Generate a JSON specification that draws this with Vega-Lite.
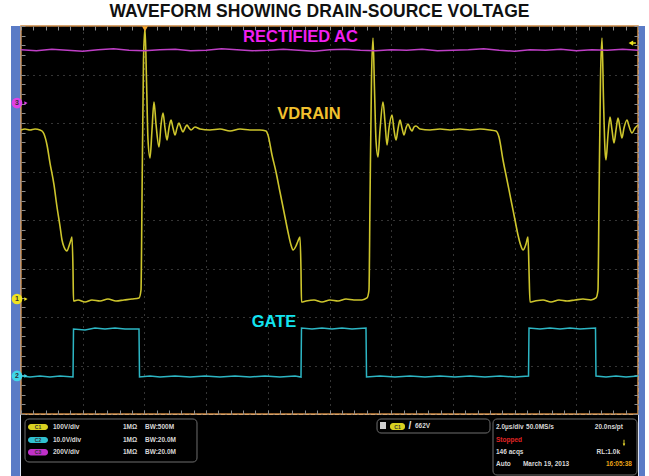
{
"$schema":"https://vega.github.io/schema/vega-lite/v6.json",
"width":617,"height":388,"autosize":"none",
"padding":{"left":21,"top":26,"right":11,"bottom":62},
"background":"#ffffff",
"title":{"text":"WAVEFORM SHOWING DRAIN-SOURCE VOLTAGE","font":"Liberation Sans","fontSize":17.5,"fontWeight":"bold","color":"#111111","anchor":"middle","offset":4,"dx":-10},
"config":{"view":{"fill":"#000000","stroke":"#c9853f","strokeWidth":1.5},"text":{"font":"Liberation Sans","fontWeight":"bold"}},
"resolve":{"axis":{"x":"independent","y":"independent"}},
"data":{"values":[{}]},
"datasets":{
"rectac":[{"t":0,"v":7.51},{"t":0.5,"v":7.49},{"t":1,"v":7.52},{"t":1.5,"v":7.5},{"t":2,"v":7.48},{"t":2.5,"v":7.51},{"t":3,"v":7.53},{"t":3.5,"v":7.5},{"t":4,"v":7.49},{"t":4.5,"v":7.51},{"t":5,"v":7.52},{"t":5.5,"v":7.49},{"t":6,"v":7.5},{"t":6.5,"v":7.53},{"t":7,"v":7.51},{"t":7.5,"v":7.49},{"t":8,"v":7.5},{"t":8.5,"v":7.52},{"t":9,"v":7.5},{"t":9.5,"v":7.48},{"t":10,"v":7.51},{"t":10.5,"v":7.52},{"t":11,"v":7.5},{"t":11.5,"v":7.49},{"t":12,"v":7.51},{"t":12.5,"v":7.5},{"t":13,"v":7.52},{"t":13.5,"v":7.49},{"t":14,"v":7.5},{"t":14.5,"v":7.51},{"t":15,"v":7.53},{"t":15.5,"v":7.5},{"t":16,"v":7.48},{"t":16.5,"v":7.51},{"t":17,"v":7.5},{"t":17.5,"v":7.52},{"t":18,"v":7.49},{"t":18.5,"v":7.51},{"t":19,"v":7.5},{"t":19.5,"v":7.52},{"t":20,"v":7.5}],
"gate":[{"t":0,"v":0.784},{"t":0.292,"v":0.763},{"t":0.616,"v":0.784},{"t":0.94,"v":0.763},{"t":1.264,"v":0.784},{"t":1.686,"v":0.763},{"t":1.702,"v":1.753},{"t":2.075,"v":1.732},{"t":2.399,"v":1.773},{"t":2.723,"v":1.753},{"t":3.047,"v":1.773},{"t":3.371,"v":1.753},{"t":3.825,"v":1.753},{"t":3.841,"v":0.763},{"t":4.182,"v":0.784},{"t":4.506,"v":0.763},{"t":4.992,"v":0.784},{"t":5.478,"v":0.763},{"t":5.964,"v":0.784},{"t":6.45,"v":0.763},{"t":6.937,"v":0.784},{"t":7.423,"v":0.763},{"t":7.909,"v":0.784},{"t":8.395,"v":0.763},{"t":8.882,"v":0.784},{"t":9.076,"v":0.763},{"t":9.092,"v":1.773},{"t":9.433,"v":1.753},{"t":9.757,"v":1.773},{"t":10.081,"v":1.753},{"t":10.405,"v":1.773},{"t":10.729,"v":1.753},{"t":11.183,"v":1.773},{"t":11.2,"v":0.763},{"t":11.637,"v":0.784},{"t":12.123,"v":0.763},{"t":12.609,"v":0.784},{"t":13.096,"v":0.763},{"t":13.582,"v":0.784},{"t":14.068,"v":0.763},{"t":14.554,"v":0.784},{"t":15.041,"v":0.763},{"t":15.527,"v":0.784},{"t":16.013,"v":0.763},{"t":16.451,"v":0.784},{"t":16.467,"v":1.773},{"t":16.823,"v":1.753},{"t":17.147,"v":1.773},{"t":17.472,"v":1.753},{"t":17.796,"v":1.773},{"t":18.12,"v":1.753},{"t":18.622,"v":1.773},{"t":18.638,"v":0.784},{"t":18.963,"v":0.763},{"t":19.287,"v":0.784},{"t":19.611,"v":0.763},{"t":20,"v":0.784}],
"vdrain":[{"t":0,"v":5.856},{"t":0.13,"v":5.876},{"t":0.292,"v":5.856},{"t":0.454,"v":5.876},{"t":0.616,"v":5.856},{"t":0.681,"v":5.835},{"t":0.746,"v":5.773},{"t":0.843,"v":5.546},{"t":0.94,"v":5.175},{"t":1.07,"v":4.722},{"t":1.167,"v":4.268},{"t":1.264,"v":3.876},{"t":1.329,"v":3.588},{"t":1.394,"v":3.443},{"t":1.491,"v":3.361},{"t":1.556,"v":3.464},{"t":1.621,"v":3.588},{"t":1.653,"v":3.649},{"t":1.686,"v":2.969},{"t":1.702,"v":2.33},{"t":1.848,"v":2.351},{"t":2.075,"v":2.309},{"t":2.301,"v":2.351},{"t":2.561,"v":2.33},{"t":2.82,"v":2.371},{"t":3.079,"v":2.33},{"t":3.339,"v":2.351},{"t":3.598,"v":2.371},{"t":3.825,"v":2.392},{"t":3.89,"v":2.557},{"t":3.922,"v":4.412},{"t":3.971,"v":7.299},{"t":4.019,"v":7.959},{"t":4.068,"v":6.887},{"t":4.117,"v":5.649},{"t":4.182,"v":5.278},{"t":4.246,"v":5.856},{"t":4.311,"v":6.433},{"t":4.376,"v":5.979},{"t":4.473,"v":5.505},{"t":4.538,"v":5.959},{"t":4.603,"v":6.206},{"t":4.668,"v":5.897},{"t":4.733,"v":5.649},{"t":4.797,"v":5.897},{"t":4.862,"v":6.062},{"t":4.927,"v":5.897},{"t":4.992,"v":5.753},{"t":5.057,"v":5.897},{"t":5.122,"v":6.0},{"t":5.186,"v":5.897},{"t":5.251,"v":5.814},{"t":5.316,"v":5.897},{"t":5.381,"v":5.959},{"t":5.446,"v":5.897},{"t":5.511,"v":5.856},{"t":5.64,"v":5.918},{"t":5.802,"v":5.876},{"t":6.126,"v":5.856},{"t":6.45,"v":5.876},{"t":6.775,"v":5.835},{"t":7.099,"v":5.876},{"t":7.423,"v":5.856},{"t":7.747,"v":5.856},{"t":7.942,"v":5.835},{"t":8.006,"v":5.753},{"t":8.136,"v":5.34},{"t":8.266,"v":4.99},{"t":8.395,"v":4.577},{"t":8.525,"v":4.165},{"t":8.655,"v":3.753},{"t":8.752,"v":3.485},{"t":8.817,"v":3.381},{"t":8.914,"v":3.464},{"t":8.979,"v":3.567},{"t":9.044,"v":3.649},{"t":9.076,"v":2.969},{"t":9.092,"v":2.309},{"t":9.238,"v":2.33},{"t":9.498,"v":2.351},{"t":9.757,"v":2.309},{"t":10.016,"v":2.351},{"t":10.276,"v":2.33},{"t":10.535,"v":2.371},{"t":10.794,"v":2.351},{"t":11.053,"v":2.351},{"t":11.216,"v":2.392},{"t":11.28,"v":2.557},{"t":11.313,"v":4.412},{"t":11.361,"v":6.887},{"t":11.41,"v":7.753},{"t":11.459,"v":6.68},{"t":11.507,"v":5.649},{"t":11.572,"v":5.299},{"t":11.637,"v":5.856},{"t":11.734,"v":6.433},{"t":11.799,"v":6.021},{"t":11.864,"v":5.546},{"t":11.929,"v":5.897},{"t":12.026,"v":6.165},{"t":12.091,"v":5.856},{"t":12.156,"v":5.649},{"t":12.22,"v":5.876},{"t":12.285,"v":6.062},{"t":12.35,"v":5.897},{"t":12.415,"v":5.753},{"t":12.48,"v":5.897},{"t":12.545,"v":5.979},{"t":12.61,"v":5.897},{"t":12.674,"v":5.835},{"t":12.739,"v":5.918},{"t":12.804,"v":5.938},{"t":12.934,"v":5.876},{"t":13.258,"v":5.856},{"t":13.582,"v":5.876},{"t":13.906,"v":5.856},{"t":14.23,"v":5.876},{"t":14.554,"v":5.856},{"t":14.878,"v":5.876},{"t":15.203,"v":5.856},{"t":15.397,"v":5.835},{"t":15.494,"v":5.711},{"t":15.624,"v":5.237},{"t":15.754,"v":4.825},{"t":15.883,"v":4.412},{"t":16.013,"v":4.0},{"t":16.11,"v":3.691},{"t":16.207,"v":3.464},{"t":16.272,"v":3.381},{"t":16.369,"v":3.505},{"t":16.434,"v":3.649},{"t":16.467,"v":2.969},{"t":16.499,"v":2.309},{"t":16.661,"v":2.33},{"t":16.921,"v":2.351},{"t":17.18,"v":2.309},{"t":17.439,"v":2.351},{"t":17.699,"v":2.33},{"t":17.958,"v":2.351},{"t":18.217,"v":2.371},{"t":18.476,"v":2.351},{"t":18.638,"v":2.392},{"t":18.703,"v":2.557},{"t":18.736,"v":4.412},{"t":18.784,"v":6.887},{"t":18.833,"v":7.753},{"t":18.882,"v":6.474},{"t":18.93,"v":5.443},{"t":18.963,"v":5.237},{"t":19.027,"v":5.753},{"t":19.092,"v":6.124},{"t":19.157,"v":5.856},{"t":19.222,"v":5.588},{"t":19.287,"v":5.856},{"t":19.352,"v":6.103},{"t":19.416,"v":5.897},{"t":19.481,"v":5.691},{"t":19.546,"v":5.897},{"t":19.643,"v":6.062},{"t":19.708,"v":5.938},{"t":19.805,"v":5.794},{"t":19.903,"v":5.897},{"t":20,"v":5.959}],
"refs":[{"ch":"3","level":6.412},{"ch":"1","level":2.371},{"ch":"2","level":0.784}]
},
"layer":[
{"mark":{"type":"rect","color":"#000000"},"encoding":{"x":{"datum":0,"type":"quantitative","axis":null},"x2":{"datum":20},"y":{"datum":-0.02,"type":"quantitative","axis":null},"y2":{"datum":-1.3}}},
{"mark":{"type":"rect","color":"#5a7bc6"},"encoding":{"x":{"datum":-0.324,"type":"quantitative","axis":null},"x2":{"datum":-0.025},"y":{"datum":8,"type":"quantitative","axis":null},"y2":{"datum":-1.3}}},
{"mark":{"type":"rect","color":"#5a7bc6"},"encoding":{"x":{"datum":20.025,"type":"quantitative","axis":null},"x2":{"datum":20.227},"y":{"datum":8,"type":"quantitative","axis":null},"y2":{"datum":-1.3}}},
{"data":{"name":"vdrain"},"mark":{"type":"line","color":"#cdc52c","strokeWidth":1.6,"interpolate":"monotone"},"encoding":{
 "x":{"field":"t","type":"quantitative","scale":{"domain":[0,20]},"axis":{"orient":"bottom","values":[0,2,4,6,8,10,12,14,16,18,20],"grid":true,"gridColor":"#6a6a6a","gridDash":[1,5],"gridWidth":1,"ticks":false,"labels":false,"domain":false,"title":null}},
 "y":{"field":"v","type":"quantitative","scale":{"domain":[0,8]},"axis":{"orient":"left","values":[0,1,2,3,4,5,6,7,8],"grid":true,"gridColor":"#6a6a6a","gridDash":[1,5],"gridWidth":1,"ticks":false,"labels":false,"domain":false,"title":null}}}},
{"data":{"name":"gate"},"mark":{"type":"line","color":"#2db6c4","strokeWidth":1.5},"encoding":{
 "x":{"field":"t","type":"quantitative","scale":{"domain":[0,20]},"axis":{"orient":"top","values":[0,0.4,0.8,1.2,1.6,2,2.4,2.8,3.2,3.6,4,4.4,4.8,5.2,5.6,6,6.4,6.8,7.2,7.6,8,8.4,8.8,9.2,9.6,10,10.4,10.8,11.2,11.6,12,12.4,12.8,13.2,13.6,14,14.4,14.8,15.2,15.6,16,16.4,16.8,17.2,17.6,18,18.4,18.8,19.2,19.6,20],"tickSize":-4,"tickColor":"#8c8c8c","labels":false,"domain":false,"grid":false,"title":null}},
 "y":{"field":"v","type":"quantitative","scale":{"domain":[0,8]},"axis":{"orient":"left","values":[0,0.2,0.4,0.6,0.8,1,1.2,1.4,1.6,1.8,2,2.2,2.4,2.6,2.8,3,3.2,3.4,3.6,3.8,4,4.2,4.4,4.6,4.8,5,5.2,5.4,5.6,5.8,6,6.2,6.4,6.6,6.8,7,7.2,7.4,7.6,7.8,8],"tickSize":-4,"tickColor":"#8c8c8c","labels":false,"domain":false,"grid":false,"title":null}}}},
{"data":{"name":"rectac"},"mark":{"type":"line","color":"#bf3fc6","strokeWidth":1.4},"encoding":{
 "x":{"field":"t","type":"quantitative","scale":{"domain":[0,20]},"axis":{"orient":"bottom","values":[0,0.4,0.8,1.2,1.6,2,2.4,2.8,3.2,3.6,4,4.4,4.8,5.2,5.6,6,6.4,6.8,7.2,7.6,8,8.4,8.8,9.2,9.6,10,10.4,10.8,11.2,11.6,12,12.4,12.8,13.2,13.6,14,14.4,14.8,15.2,15.6,16,16.4,16.8,17.2,17.6,18,18.4,18.8,19.2,19.6,20],"tickSize":-4,"tickColor":"#8c8c8c","labels":false,"domain":false,"grid":false,"title":null}},
 "y":{"field":"v","type":"quantitative","scale":{"domain":[0,8]},"axis":{"orient":"right","values":[0,0.2,0.4,0.6,0.8,1,1.2,1.4,1.6,1.8,2,2.2,2.4,2.6,2.8,3,3.2,3.4,3.6,3.8,4,4.2,4.4,4.6,4.8,5,5.2,5.4,5.6,5.8,6,6.2,6.4,6.6,6.8,7,7.2,7.4,7.6,7.8,8],"tickSize":-4,"tickColor":"#8c8c8c","labels":false,"domain":false,"grid":false,"title":null}}}},
{"mark":{"type":"text","color":"#f01ff0","fontSize":16.5},"encoding":{"x":{"datum":9.06,"type":"quantitative","axis":null},"y":{"datum":7.777,"type":"quantitative","axis":null},"text":{"value":"RECTIFIED AC"}}},
{"mark":{"type":"text","color":"#f2c02e","fontSize":16.5},"encoding":{"x":{"datum":9.335,"type":"quantitative","axis":null},"y":{"datum":6.186,"type":"quantitative","axis":null},"text":{"value":"VDRAIN"}}},
{"mark":{"type":"text","color":"#12e4f0","fontSize":16.5},"encoding":{"x":{"datum":8.201,"type":"quantitative","axis":null},"y":{"datum":1.887,"type":"quantitative","axis":null},"text":{"value":"GATE"}}},
{"data":{"name":"refs"},"mark":{"type":"point","filled":true,"size":115,"opacity":1},"encoding":{"x":{"datum":-0.13,"type":"quantitative","axis":null},"y":{"field":"level","type":"quantitative","axis":null},"color":{"field":"ch","type":"nominal","scale":{"domain":["1","2","3"],"range":["#efe31f","#3fd6e8","#e040e6"]},"legend":null}}},
{"data":{"name":"refs"},"mark":{"type":"point","filled":true,"size":14,"opacity":1,"shape":"triangle-right"},"encoding":{"x":{"datum":0.16,"type":"quantitative","axis":null},"y":{"field":"level","type":"quantitative","axis":null},"color":{"field":"ch","type":"nominal","legend":null}}},
{"data":{"name":"refs"},"mark":{"type":"text","fontSize":7,"color":"#333333"},"encoding":{"x":{"datum":-0.13,"type":"quantitative","axis":null},"y":{"field":"level","type":"quantitative","axis":null},"text":{"field":"ch"}}},
{"mark":{"type":"point","shape":"triangle-down","filled":true,"size":35,"color":"#f2a531","opacity":1},"encoding":{"x":{"datum":4.019,"type":"quantitative","axis":null},"y":{"datum":7.94,"type":"quantitative","axis":null}}},
{"mark":{"type":"point","shape":"triangle-left","filled":true,"size":28,"color":"#ebe21f","opacity":1},"encoding":{"x":{"datum":19.77,"type":"quantitative","axis":null},"y":{"datum":7.649,"type":"quantitative","axis":null}}},
{"mark":{"type":"rule","color":"#ebe21f","strokeWidth":1.5},"encoding":{"x":{"datum":19.79,"type":"quantitative","axis":null},"x2":{"datum":19.93},"y":{"datum":7.649,"type":"quantitative","axis":null}}},
{"mark":{"type":"rect","fill":"#000000","stroke":"#6e6e6e","strokeWidth":1,"cornerRadius":4},"encoding":{"x":{"datum":0.13,"type":"quantitative","axis":null},"x2":{"datum":5.705},"y":{"datum":-0.103,"type":"quantitative","axis":null},"y2":{"datum":-0.99}}},
{"mark":{"type":"rect","color":"#d8d020","cornerRadius":3},"encoding":{"x":{"datum":0.227,"type":"quantitative","axis":null},"x2":{"datum":0.875},"y":{"datum":-0.206,"type":"quantitative","axis":null},"y2":{"datum":-0.33}}},
{"mark":{"type":"rect","color":"#30c0d0","cornerRadius":3},"encoding":{"x":{"datum":0.227,"type":"quantitative","axis":null},"x2":{"datum":0.875},"y":{"datum":-0.474,"type":"quantitative","axis":null},"y2":{"datum":-0.598}}},
{"mark":{"type":"rect","color":"#c030c8","cornerRadius":3},"encoding":{"x":{"datum":0.227,"type":"quantitative","axis":null},"x2":{"datum":0.875},"y":{"datum":-0.722,"type":"quantitative","axis":null},"y2":{"datum":-0.856}}},
{"mark":{"type":"text","fontSize":5,"color":"#333333","lineBreak":"\n","lineHeight":12.7},"encoding":{"x":{"datum":0.551,"type":"quantitative","axis":null},"y":{"datum":-0.268,"type":"quantitative","axis":null},"text":{"value":"C1\nC2\nC3"}}},
{"mark":{"type":"text","fontSize":6.5,"color":"#d9d9d9","align":"left","lineBreak":"\n","lineHeight":12.7},"encoding":{"x":{"datum":1.037,"type":"quantitative","axis":null},"y":{"datum":-0.268,"type":"quantitative","axis":null},"text":{"value":"100V/div\n10.0V/div\n200V/div"}}},
{"mark":{"type":"text","fontSize":6.5,"color":"#d9d9d9","align":"left","lineBreak":"\n","lineHeight":12.7},"encoding":{"x":{"datum":3.306,"type":"quantitative","axis":null},"y":{"datum":-0.268,"type":"quantitative","axis":null},"text":{"value":"1MΩ\n1MΩ\n1MΩ"}}},
{"mark":{"type":"text","fontSize":6.5,"color":"#d9d9d9","align":"left","lineBreak":"\n","lineHeight":12.7},"encoding":{"x":{"datum":4.019,"type":"quantitative","axis":null},"y":{"datum":-0.268,"type":"quantitative","axis":null},"text":{"value":"BW:500M\nBW:20.0M\nBW:20.0M"}}},
{"mark":{"type":"rect","fill":"#000000","stroke":"#6e6e6e","strokeWidth":1,"cornerRadius":4},"encoding":{"x":{"datum":11.54,"type":"quantitative","axis":null},"x2":{"datum":15.203},"y":{"datum":-0.103,"type":"quantitative","axis":null},"y2":{"datum":-0.392}}},
{"mark":{"type":"rect","color":"#d0d0d0"},"encoding":{"x":{"datum":11.637,"type":"quantitative","axis":null},"x2":{"datum":11.831},"y":{"datum":-0.165,"type":"quantitative","axis":null},"y2":{"datum":-0.309}}},
{"mark":{"type":"rect","color":"#d8d020","cornerRadius":3},"encoding":{"x":{"datum":11.961,"type":"quantitative","axis":null},"x2":{"datum":12.447},"y":{"datum":-0.186,"type":"quantitative","axis":null},"y2":{"datum":-0.33}}},
{"mark":{"type":"text","fontSize":5,"color":"#333333"},"encoding":{"x":{"datum":12.204,"type":"quantitative","axis":null},"y":{"datum":-0.258,"type":"quantitative","axis":null},"text":{"value":"C1"}}},
{"mark":{"type":"text","fontSize":10,"color":"#e6e6e6"},"encoding":{"x":{"datum":12.609,"type":"quantitative","axis":null},"y":{"datum":-0.247,"type":"quantitative","axis":null},"text":{"value":"/"}}},
{"mark":{"type":"text","fontSize":6.5,"color":"#d9d9d9","align":"left"},"encoding":{"x":{"datum":12.771,"type":"quantitative","axis":null},"y":{"datum":-0.247,"type":"quantitative","axis":null},"text":{"value":"662V"}}},
{"mark":{"type":"rect","fill":"#000000","stroke":"#6e6e6e","strokeWidth":1,"cornerRadius":4},"encoding":{"x":{"datum":15.3,"type":"quantitative","axis":null},"x2":{"datum":19.968},"y":{"datum":-0.103,"type":"quantitative","axis":null},"y2":{"datum":-1.258}}},
{"mark":{"type":"text","fontSize":6.5,"color":"#d9d9d9","align":"left"},"encoding":{"x":{"datum":15.397,"type":"quantitative","axis":null},"y":{"datum":-0.268,"type":"quantitative","axis":null},"text":{"value":"2.0µs/div"}}},
{"mark":{"type":"text","fontSize":6.5,"color":"#d9d9d9","align":"left"},"encoding":{"x":{"datum":16.37,"type":"quantitative","axis":null},"y":{"datum":-0.268,"type":"quantitative","axis":null},"text":{"value":"50.0MS/s"}}},
{"mark":{"type":"text","fontSize":6.5,"color":"#d9d9d9","align":"right"},"encoding":{"x":{"datum":19.514,"type":"quantitative","axis":null},"y":{"datum":-0.268,"type":"quantitative","axis":null},"text":{"value":"20.0ns/pt"}}},
{"mark":{"type":"text","fontSize":6.5,"color":"#e02424","align":"left"},"encoding":{"x":{"datum":15.397,"type":"quantitative","axis":null},"y":{"datum":-0.526,"type":"quantitative","axis":null},"text":{"value":"Stopped"}}},
{"mark":{"type":"point","shape":"arrow","angle":180,"filled":true,"size":40,"color":"#f0e030","opacity":1},"encoding":{"x":{"datum":19.546,"type":"quantitative","axis":null},"y":{"datum":-0.598,"type":"quantitative","axis":null}}},
{"mark":{"type":"text","fontSize":6.5,"color":"#d9d9d9","align":"left"},"encoding":{"x":{"datum":15.397,"type":"quantitative","axis":null},"y":{"datum":-0.784,"type":"quantitative","axis":null},"text":{"value":"146 acqs"}}},
{"mark":{"type":"text","fontSize":6.5,"color":"#d9d9d9","align":"right"},"encoding":{"x":{"datum":19.417,"type":"quantitative","axis":null},"y":{"datum":-0.784,"type":"quantitative","axis":null},"text":{"value":"RL:1.0k"}}},
{"mark":{"type":"text","fontSize":6.5,"color":"#d9d9d9","align":"left"},"encoding":{"x":{"datum":15.397,"type":"quantitative","axis":null},"y":{"datum":-1.041,"type":"quantitative","axis":null},"text":{"value":"Auto"}}},
{"mark":{"type":"text","fontSize":6.5,"color":"#d9d9d9","align":"center"},"encoding":{"x":{"datum":17.018,"type":"quantitative","axis":null},"y":{"datum":-1.041,"type":"quantitative","axis":null},"text":{"value":"March 19, 2013"}}},
{"mark":{"type":"text","fontSize":6.5,"color":"#e8a317","align":"right"},"encoding":{"x":{"datum":19.805,"type":"quantitative","axis":null},"y":{"datum":-1.041,"type":"quantitative","axis":null},"text":{"value":"16:05:38"}}}
]
}
